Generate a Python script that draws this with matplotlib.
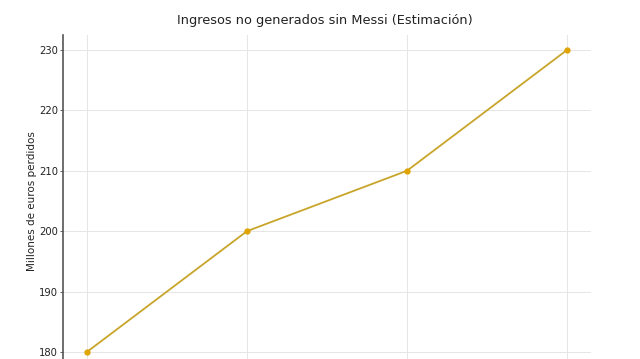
import matplotlib
matplotlib.use("Agg")
import matplotlib.pyplot as plt

# estimated lost revenue (million EUR), x ticks are cut off in the source
periods = [0, 1, 2, 3]
perdidos = [180, 200, 210, 230]
yticks = [180, 190, 200, 210, 220, 230]

fig = plt.figure(figsize=(6.4, 3.59), dpi=100)
ax = fig.add_axes([0.0984, -0.0223, 0.825, 0.925])

ax.plot(periods, perdidos, color='#c8a52a', linewidth=1.3,
        marker='o', markersize=3.5, markerfacecolor='#e0a400',
        markeredgecolor='#e0a400')

ax.set_xlim(-0.15, 3.15)
ax.set_ylim(177.5, 232.5)
ax.set_yticks(yticks)
ax.set_xticks(periods)
ax.tick_params(axis='x', bottom=False, labelbottom=False)
ax.tick_params(axis='y', labelsize=7.2, length=2.5, width=0.6, colors='#444444',
               labelcolor='#222222', pad=1)

for s in ['top', 'right', 'bottom']:
    ax.spines[s].set_visible(False)
ax.spines['left'].set_color('#555555')
ax.spines['left'].set_linewidth(1.2)

ax.grid(True, color='#e6e6e6', linewidth=0.7)
ax.set_axisbelow(True)

ax.set_ylabel('Millones de euros perdidos', fontsize=7.5, color='#222222')
ax.yaxis.set_label_coords(-0.05, 0.5)
fig.text(0.508, 0.942, 'Ingresos no generados sin Messi (Estimación)',
         ha='center', va='center', fontsize=9.3, color='#222222')

fig.savefig('out.png', dpi=100)
